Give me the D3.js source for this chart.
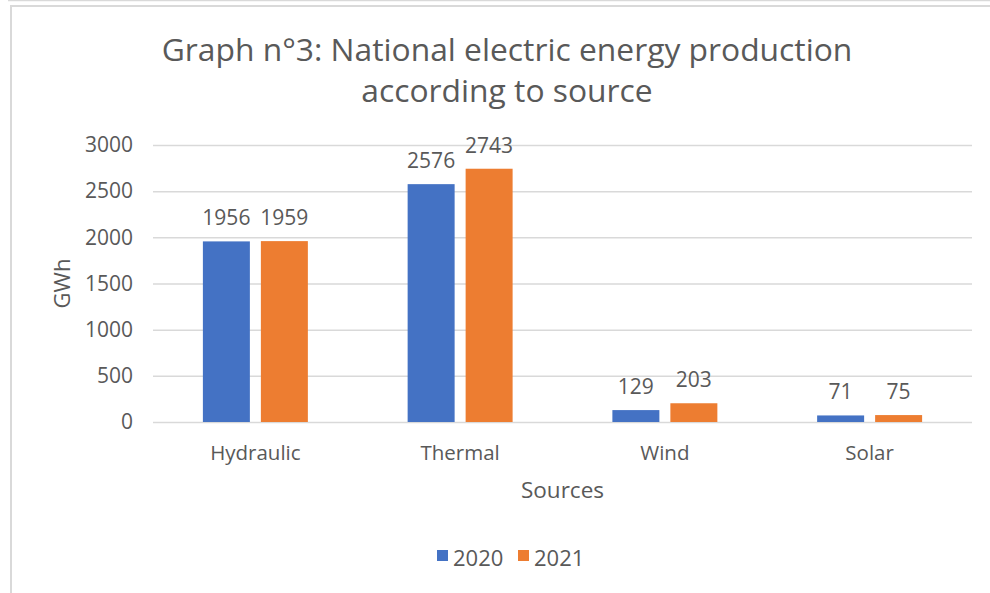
<!DOCTYPE html>
<meta charset="utf-8">
<style>
    body { margin: 0; background: #fff; }
    svg { display: block; }
    text { fill: #595959; font-family: "Open Sans", sans-serif; }
    .grid line { stroke: #d9d9d9; stroke-width: 1.5; }
    .grid path { display: none; }
    .axis path, .axis line { display: none; }
</style>
<body>
<script src="https://cdn.jsdelivr.net/npm/d3@7"></script>
<script>

    var sources = ["Hydraulic", "Thermal", "Wind", "Solar"];
    var years = ["2020", "2021"];
    var values2020 = [1956, 2576, 129, 71];
    var values2021 = [1959, 2743, 203, 75];
    var yTicks = [0, 500, 1000, 1500, 2000, 2500, 3000];
    var colors = ["#4472C4", "#ED7D31"];

    var W = 990, H = 593;
    var plot = {left: 153, right: 972, top: 145, bottom: 422};

    var svg = d3.select("body").append("svg")
            .attr("width", W)
            .attr("height", H);

    // screenshot frame
    svg.append("line").attr("x1", 8).attr("x2", W).attr("y1", 0.5).attr("y2", 0.5)
        .attr("stroke", "#d9d9d9").attr("stroke-width", 1.5);
    svg.append("path").attr("d", "M11,593V6H990")
        .attr("fill", "none").attr("stroke", "#d9d9d9").attr("stroke-width", 2);

    var x = d3.scaleBand()
            .domain(sources)
            .range([plot.left, plot.right]);

    var y = d3.scaleLinear()
            .domain([0, 3000])
            .range([plot.bottom, plot.top]);

    var barW = x.bandwidth() * 0.2295, innerGap = 11;

    svg.append("g")
        .attr("class", "grid")
        .attr("transform", "translate(" + plot.left + ",0)")
        .call(d3.axisLeft(y).tickValues(yTicks).tickSize(-(plot.right - plot.left)).tickFormat(""));

    var yAxis = svg.append("g")
        .attr("class", "axis")
        .attr("transform", "translate(" + (plot.left - 20) + ",0)")
        .call(d3.axisLeft(y).tickValues(yTicks).tickSize(0).tickPadding(0).tickFormat(d3.format("d")));
    yAxis.selectAll("text").style("font-size", "21px").attr("fill", "#595959");

    var xAxis = svg.append("g")
        .attr("class", "axis")
        .attr("transform", "translate(0," + plot.bottom + ")")
        .call(d3.axisBottom(x).tickSize(0).tickPadding(23));
    xAxis.selectAll("text").style("font-size", "20.5px").attr("fill", "#595959");

    var series = [values2020, values2021];

    series.forEach(function(vals, s) {
        var g = svg.append("g");
        var off = s === 0 ? -innerGap / 2 - barW : innerGap / 2;
        g.selectAll("rect")
            .data(vals)
            .join("rect")
            .attr("x", function(d, i) { return x(sources[i]) + x.bandwidth() / 2 + off; })
            .attr("y", function(d) { return y(d); })
            .attr("width", barW)
            .attr("height", function(d) { return y(0) - y(d); })
            .attr("fill", colors[s]);
        g.selectAll("text")
            .data(vals)
            .join("text")
            .attr("x", function(d, i) { return x(sources[i]) + x.bandwidth() / 2 + off + barW / 2; })
            .attr("y", function(d) { return y(d) - 16; })
            .attr("text-anchor", "middle")
            .style("font-size", "21px")
            .text(function(d) { return d; });
    });

    svg.append("text")
        .attr("transform", "translate(70," + ((plot.top + plot.bottom) / 2) + ") rotate(-90)")
        .attr("text-anchor", "middle")
        .style("font-size", "22px")
        .text("GWh");

    svg.append("text")
        .attr("x", (plot.left + plot.right) / 2)
        .attr("y", 498)
        .attr("text-anchor", "middle")
        .style("font-size", "22.5px")
        .text("Sources");

    var title = svg.append("text")
        .attr("text-anchor", "middle")
        .style("font-size", "31.8px");
    title.append("tspan").attr("x", 507).attr("y", 61).text("Graph n°3: National electric energy production");
    title.append("tspan").attr("x", 507).attr("y", 102).text("according to source");

    // legend
    var legend = svg.append("g").attr("transform", "translate(437,550)");
    var lx = [0, 81];
    years.forEach(function(yr, i) {
        legend.append("rect").attr("x", lx[i]).attr("y", 0).attr("width", 11).attr("height", 11).attr("fill", colors[i]);
        legend.append("text").attr("x", lx[i] + 16).attr("y", 16).style("font-size", "22px").text(yr);
    });

</script>
